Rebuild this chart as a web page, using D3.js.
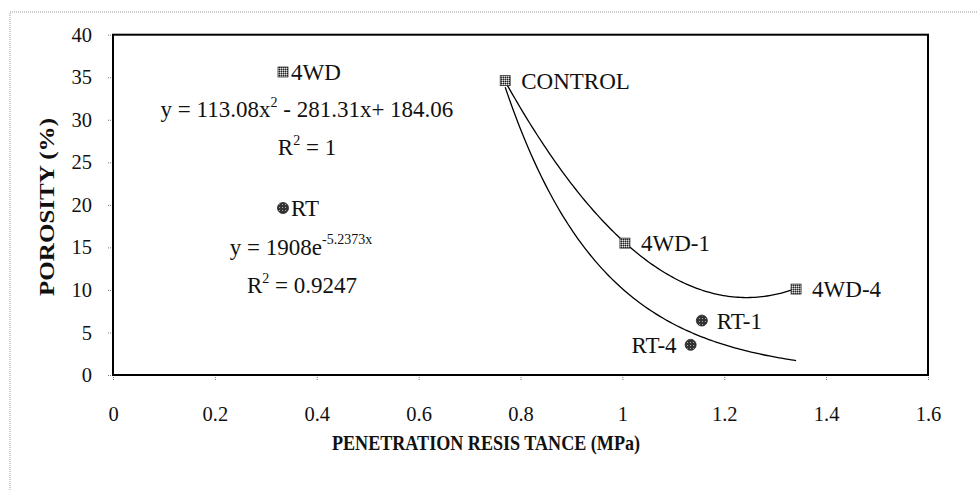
<!DOCTYPE html>
<html><head><meta charset="utf-8">
<script src="https://cdn.jsdelivr.net/npm/d3@7"></script>
<style>
html,body{margin:0;padding:0;background:#fff;}
svg{display:block;font-family:"Liberation Serif","Times New Roman",serif;}
</style></head><body>
<svg id="chart" width="977" height="490"></svg>
<script>
// 4WD traffic treatments (CONTROL is the untrafficked starting point)
const wdLabels = ["CONTROL", "4WD-1", "4WD-4"];
const wdResistance = [0.77, 1.005, 1.341];
const wdPorosity = [34.6, 15.5, 10.1];

// RT traffic treatments
const rtLabels = ["RT-1", "RT-4"];
const rtResistance = [1.156, 1.134];
const rtPorosity = [6.4, 3.55];

// Fitted trend coefficients as printed on the chart
const wdQuadCoef = [113.08, -281.31, 184.06];   // a x^2 + b x + c
const rtExpCoef = [1908, -5.2373];              // a e^(b x)
const wdR2 = "1";
const rtR2 = "0.9247";

const xTicks = [0, 0.2, 0.4, 0.6, 0.8, 1, 1.2, 1.4, 1.6];
const yTicks = [0, 5, 10, 15, 20, 25, 30, 35, 40];

const svg = d3.select("#chart");
const plotL = 113, plotR = 928, plotT = 34.7, plotB = 375;

const x = d3.scaleLinear().domain([0, 1.6]).range([plotL, plotR]);
const y = d3.scaleLinear().domain([0, 40]).range([plotB, plotT]);

// outer chart frame (dotted)
svg.append("path")
  .attr("d", "M10,490V12H977")
  .attr("fill", "none").attr("stroke", "#999")
  .attr("stroke-width", 1).attr("stroke-dasharray", "1,1");

// marker fills
const defs = svg.append("defs");
const sq = defs.append("pattern").attr("id", "sqFill")
  .attr("width", 2).attr("height", 2).attr("patternUnits", "userSpaceOnUse");
sq.append("rect").attr("width", 2).attr("height", 2).attr("fill", "#888");
sq.append("rect").attr("width", 1).attr("height", 1).attr("fill", "#e0e0e0");
sq.append("rect").attr("x", 1).attr("y", 1).attr("width", 1).attr("height", 1).attr("fill", "#222");
const ci = defs.append("pattern").attr("id", "ciFill")
  .attr("width", 3).attr("height", 3).attr("patternUnits", "userSpaceOnUse");
ci.append("rect").attr("width", 3).attr("height", 3).attr("fill", "#333");
ci.append("rect").attr("width", 1).attr("height", 1).attr("fill", "#aaa");

// axes
const yAxis = svg.append("g").attr("transform", `translate(${plotL},0)`)
  .call(d3.axisLeft(y).tickValues(yTicks).tickSize(6).tickPadding(15).tickFormat(d3.format("")));
const xAxis = svg.append("g").attr("transform", `translate(0,${plotB})`)
  .call(d3.axisBottom(x).tickValues(xTicks).tickSize(6).tickPadding(25).tickFormat(d3.format("")));
[yAxis, xAxis].forEach(a => {
  a.select(".domain").remove();
  a.selectAll(".tick line").attr("stroke", "#777").attr("stroke-width", 1).attr("stroke-dasharray", "1,1");
  a.selectAll(".tick text").attr("font-size", 20.5).attr("fill", "#111")
    .attr("font-family", "Liberation Serif, serif");
});

// plot box
svg.append("rect")
  .attr("x", plotL).attr("y", plotT)
  .attr("width", plotR - plotL).attr("height", plotB - plotT)
  .attr("fill", "none").attr("stroke", "#000").attr("stroke-width", 2);

// trend curves over the observed range
const xMin = d3.min(wdResistance.concat(rtResistance));
const xMax = d3.max(wdResistance.concat(rtResistance));
const xs = d3.range(0, 121).map(i => xMin + (xMax - xMin) * i / 120);
const quad = v => wdQuadCoef[0] * v * v + wdQuadCoef[1] * v + wdQuadCoef[2];
const expo = v => rtExpCoef[0] * Math.exp(rtExpCoef[1] * v);
const line = d3.line().x(d => x(d[0])).y(d => y(d[1]));
svg.append("path").datum(xs.map(v => [v, quad(v)])).attr("d", line)
  .attr("fill", "none").attr("stroke", "#000").attr("stroke-width", 1.3);
svg.append("path").datum(xs.map(v => [v, expo(v)])).attr("d", line)
  .attr("fill", "none").attr("stroke", "#000").attr("stroke-width", 1.3);

const labelSize = 23;

// 4WD markers and labels
const wd = wdLabels.map((l, i) => ({ l, x: wdResistance[i], y: wdPorosity[i] }));
svg.selectAll(".wd").data(wd).enter().append("rect")
  .attr("x", d => x(d.x) - 5).attr("y", d => y(d.y) - 5)
  .attr("width", 10).attr("height", 10)
  .attr("fill", "url(#sqFill)").attr("stroke", "#333").attr("stroke-width", 0.8);
svg.selectAll(".wdl").data(wd).enter().append("text")
  .attr("x", d => x(d.x) + 16).attr("y", d => y(d.y)).attr("dy", "0.35em")
  .attr("font-size", labelSize).attr("fill", "#111").text(d => d.l);

// RT markers and labels
const rt = rtLabels.map((l, i) => ({ l, x: rtResistance[i], y: rtPorosity[i] }));
svg.selectAll(".rt").data(rt).enter().append("circle")
  .attr("cx", d => x(d.x)).attr("cy", d => y(d.y)).attr("r", 5.5)
  .attr("fill", "url(#ciFill)").attr("stroke", "#222").attr("stroke-width", 0.8);
svg.selectAll(".rtl").data(rt).enter().append("text")
  .attr("x", (d, i) => i === 0 ? x(d.x) + 15 : x(d.x) - 14)
  .attr("text-anchor", (d, i) => i === 0 ? "start" : "end")
  .attr("y", d => y(d.y)).attr("dy", "0.35em")
  .attr("font-size", labelSize).attr("fill", "#111").text(d => d.l);

// legend entries
svg.append("rect").attr("x", 278).attr("y", 67).attr("width", 10).attr("height", 10)
  .attr("fill", "url(#sqFill)").attr("stroke", "#333").attr("stroke-width", 0.8);
svg.append("text").attr("x", 291).attr("y", 72).attr("dy", "0.35em")
  .attr("font-size", labelSize).attr("fill", "#111").text("4WD");
svg.append("circle").attr("cx", 283).attr("cy", 208).attr("r", 5.5)
  .attr("fill", "url(#ciFill)").attr("stroke", "#222").attr("stroke-width", 0.8);
svg.append("text").attr("x", 291).attr("y", 208).attr("dy", "0.35em")
  .attr("font-size", labelSize).attr("fill", "#111").text("RT");

// trend equations
const fmt = v => Math.abs(v).toFixed(2);
const eq1 = svg.append("text").attr("x", 307).attr("y", 117).attr("text-anchor", "middle")
  .attr("font-size", labelSize).attr("fill", "#111");
eq1.append("tspan").text(`y = ${fmt(wdQuadCoef[0])}x`);
eq1.append("tspan").attr("font-size", 14).attr("dy", -10).text("2");
eq1.append("tspan").attr("dy", 10).text(` - ${fmt(wdQuadCoef[1])}x+ ${fmt(wdQuadCoef[2])}`);

const r1 = svg.append("text").attr("x", 307).attr("y", 155).attr("text-anchor", "middle")
  .attr("font-size", labelSize).attr("fill", "#111");
r1.append("tspan").text("R");
r1.append("tspan").attr("font-size", 14).attr("dy", -10).text("2");
r1.append("tspan").attr("dy", 10).text(` = ${wdR2}`);

const eq2 = svg.append("text").attr("x", 301).attr("y", 255).attr("text-anchor", "middle")
  .attr("font-size", labelSize).attr("fill", "#111");
eq2.append("tspan").text(`y = ${rtExpCoef[0]}e`);
eq2.append("tspan").attr("font-size", 14).attr("dy", -11).text(`${rtExpCoef[1]}x`);

const r2 = svg.append("text").attr("x", 302).attr("y", 293).attr("text-anchor", "middle")
  .attr("font-size", labelSize).attr("fill", "#111");
r2.append("tspan").text("R");
r2.append("tspan").attr("font-size", 14).attr("dy", -10).text("2");
r2.append("tspan").attr("dy", 10).text(` = ${rtR2}`);

// axis titles
svg.append("text").attr("transform", "translate(54,207) rotate(-90)")
  .attr("text-anchor", "middle").attr("font-size", 22).attr("font-weight", "bold")
  .attr("fill", "#111").attr("textLength", 178).attr("lengthAdjust", "spacingAndGlyphs")
  .text("POROSITY (%)");
svg.append("text").attr("x", 486).attr("y", 450).attr("text-anchor", "middle")
  .attr("font-size", 20).attr("font-weight", "bold").attr("fill", "#111")
  .attr("textLength", 308).attr("lengthAdjust", "spacingAndGlyphs")
  .text("PENETRATION RESIS TANCE (MPa)");
</script>
</body></html>
